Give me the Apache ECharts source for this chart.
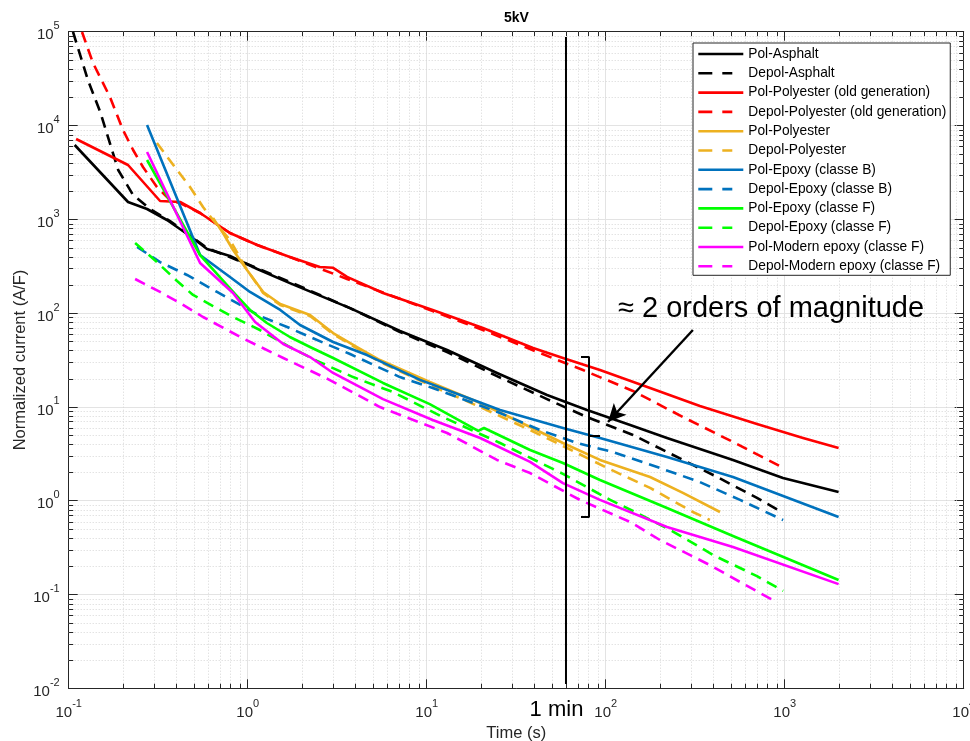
<!DOCTYPE html>
<html>
<head>
<meta charset="utf-8">
<script src="https://cdn.jsdelivr.net/npm/echarts@6/dist/echarts.min.js"></script>
<style>
html, body { margin: 0; padding: 0; background: #ffffff; }
#chart { width: 970px; height: 741px; }
</style>
</head>
<body>
<div id="chart"></div>
<script>
// Polarization / depolarization currents at 5 kV, normalized by capacitance.
// Each measurement: time (s) and normalized current (A/F).
const polAsphaltT = [0.108, 0.2145, 0.274, 0.354, 0.476, 0.593, 0.796, 1.13, 1.72, 3.73, 7.09, 13.0, 24.7, 47.0, 78.6, 137, 220, 514, 978, 2000];
const polAsphaltI = [6194, 1529, 1288, 983, 664, 482, 406, 295, 209, 113, 64.5, 40.4, 23.0, 13.4, 9.27, 6.41, 4.66, 2.72, 1.75, 1.24];

const depolAsphaltT = [0.1057, 0.128, 0.150, 0.189, 0.229, 0.285, 0.368, 0.593, 1.13, 1.72, 3.73, 7.09, 13.0, 24.7, 47.0, 78.6, 142, 238, 419, 700, 980];
const depolAsphaltI = [99300, 30560, 13930, 3355, 1816, 1288, 959, 494, 302, 215, 113, 62.9, 38.5, 21.3, 12.1, 7.8, 5.02, 3.07, 1.79, 1.07, 0.74];

const polOldPolyT = [0.110, 0.2145, 0.324, 0.419, 0.542, 0.796, 1.13, 1.72, 2.53, 3.00, 3.59, 5.70, 10.8, 20.6, 39.3, 57.7, 92.9, 177, 336, 700, 1266, 2000];
const polOldPolyI = [7178, 3792, 1567, 1529, 1167, 714, 532, 396, 310, 304, 243, 164, 108, 69.4, 42.5, 33.2, 24.7, 15.9, 10.2, 6.57, 4.66, 3.65];

const depolOldPolyT = [0.1187, 0.1367, 0.170, 0.201, 0.229, 0.260, 0.311, 0.368, 0.430, 0.542, 0.796, 1.13, 1.72, 3.59, 10.8, 20.6, 43.0, 74.7, 142, 270, 514, 941];
const depolOldPolyI = [99300, 46380, 20130, 8954, 5481, 3610, 2210, 1606, 1456, 1167, 714, 532, 396, 231, 105, 66, 37.5, 24.7, 14.8, 7.8, 4.23, 2.34];

const polPolyT = [0.640, 0.728, 0.828, 0.991, 1.22, 1.52, 2.23, 3.00, 4.08, 5.48, 10.4, 19.9, 37.8, 57.7, 92.9, 177, 270, 435];
const polPolyI = [1033, 714, 471, 288, 168, 125, 95.4, 61.3, 43.5, 31.6, 18.4, 11.0, 6.1, 4.12, 2.72, 1.79, 1.21, 0.758];

const depolPolyT = [0.311, 0.403, 0.476, 0.563, 0.640, 0.796, 0.991, 1.22, 1.52, 2.23, 3.00, 5.48, 10.4, 19.9, 37.8, 59.2, 102, 177, 307, 382];
const depolPolyI = [6509, 3355, 2210, 1352, 983, 602, 288, 164, 122, 93.1, 59.9, 30.1, 17.1, 9.97, 5.67, 3.74, 2.23, 1.37, 0.758, 0.622];

const polEpoxyBT = [0.274, 0.542, 0.796, 1.03, 1.52, 1.96, 3.00, 4.64, 9.18, 25.7, 57.7, 92.9, 220, 514, 2000];
const polEpoxyBI = [10120, 416, 243, 168, 108, 74.7, 49.2, 35.7, 19.4, 9.27, 5.96, 4.66, 2.92, 1.79, 0.67];

const depolEpoxyBT = [0.241, 0.324, 0.458, 0.674, 1.17, 1.66, 2.23, 3.73, 7.09, 10.8, 25.7, 43.0, 69.1, 110, 201, 336, 563, 980];
const depolEpoxyBI = [507, 350, 255, 168, 93.1, 71.1, 55.6, 36.6, 20.8, 15.9, 8.61, 5.67, 4.12, 3.30, 2.23, 1.58, 1.02, 0.622];

const polEpoxyFT = [0.274, 0.542, 0.849, 1.03, 1.28, 1.72, 2.23, 3.00, 5.70, 10.4, 19.4, 20.9, 37.8, 57.7, 92.9, 220, 514, 2000];
const polEpoxyFI = [4287, 416, 160, 108, 78.4, 55.6, 43.5, 33.2, 18.0, 10.7, 5.54, 5.96, 3.47, 2.52, 1.66, 0.836, 0.42, 0.143];

const depolEpoxyFT = [0.235, 0.311, 0.403, 0.495, 0.640, 0.828, 1.17, 1.72, 2.44, 3.88, 6.48, 12.3, 25.7, 57.7, 106, 142, 235, 408, 700, 980];
const depolEpoxyFI = [559, 350, 220, 156, 119, 90.9, 66, 43.5, 30.9, 20.8, 14.4, 7.8, 4.12, 1.93, 1.02, 0.777, 0.475, 0.257, 0.157, 0.109];

const polModernT = [0.274, 0.542, 0.828, 1.10, 1.58, 2.23, 3.00, 5.70, 10.8, 19.9, 37.8, 57.7, 92.9, 220, 514, 2000];
const polModernI = [5218, 342, 164, 80.4, 46.8, 34.0, 23.0, 12.1, 7.25, 4.66, 2.59, 1.54, 1.02, 0.524, 0.321, 0.129];

const depolModernT = [0.235, 0.324, 0.419, 0.563, 0.930, 1.58, 2.81, 5.48, 13.0, 24.7, 37.8, 71.8, 137, 201, 382, 563, 860];
const depolModernI = [231, 168, 128, 90.9, 54.3, 33.2, 19.8, 9.97, 5.27, 2.72, 1.97, 1.02, 0.593, 0.381, 0.206, 0.136, 0.087];

const seriesNames = [
  'Pol-Asphalt', 'Depol-Asphalt',
  'Pol-Polyester (old generation)', 'Depol-Polyester (old generation)',
  'Pol-Polyester', 'Depol-Polyester',
  'Pol-Epoxy (classe B)', 'Depol-Epoxy (classe B)',
  'Pol-Epoxy (classe F)', 'Depol-Epoxy (classe F)',
  'Pol-Modern epoxy (classe F)', 'Depol-Modern epoxy (classe F)'
];
const seriesTimes = [polAsphaltT, depolAsphaltT, polOldPolyT, depolOldPolyT, polPolyT, depolPolyT,
  polEpoxyBT, depolEpoxyBT, polEpoxyFT, depolEpoxyFT, polModernT, depolModernT];
const seriesCurrents = [polAsphaltI, depolAsphaltI, polOldPolyI, depolOldPolyI, polPolyI, depolPolyI,
  polEpoxyBI, depolEpoxyBI, polEpoxyFI, depolEpoxyFI, polModernI, depolModernI];
const seriesColors = ['#000000', '#000000', '#ff0000', '#ff0000', '#edb120', '#edb120',
  '#0072bd', '#0072bd', '#00ff00', '#00ff00', '#ff00ff', '#ff00ff'];

// Axis ranges (decades) and tick label exponents
const xRange = [0.1, 10000];
const yRange = [0.01, 100000];
const xTickExponents = [-1, 0, 1, 2, 3, 4];
const yTickExponents = [-2, -1, 0, 1, 2, 3, 4, 5];

// Annotations: 1-minute marker and the spread bracket at that time
const oneMinute = 60;
const oneMinuteSpan = [0.0111, 88000];
const bracketT = [72.8, 80.7, 80.7, 72.8];
const bracketI = [34, 34, 0.67, 0.67];
const bracketTickT = [80.7, 92.9];
const bracketTickI = [4.9, 4.9];
const arrowFrom = [307, 66];
const arrowTo = [103, 6.9];

const FONT = '"Liberation Sans", Arial, Helvetica, sans-serif';
const AX = '#262626';
const DASH = [11, 7];
const LEGEND_DASH = [14, 10, 10, 20];

// Minor grid positions 2..9 within each decade
function minorValues(lo, hi) {
  const out = [];
  for (let e = lo; e < hi; e++) {
    for (let m = 2; m <= 9; m++) out.push(+(m * Math.pow(10, e)).toPrecision(3));
  }
  return out;
}
const xMinor = minorValues(-1, 4);
const yMinor = minorValues(-2, 5);

function tickLabel(v, exps) {
  const e = Math.round(Math.log10(v));
  if (exps.indexOf(e) < 0) return '';
  return '{b|10}{e|' + e + '}';
}
const labelRich = {
  b: { fontFamily: FONT, fontSize: 15, color: AX, lineHeight: 22, verticalAlign: 'bottom' },
  e: { fontFamily: FONT, fontSize: 11, color: AX, lineHeight: 11, verticalAlign: 'top' }
};

const logAxisBase = {
  type: 'log',
  logBase: 10,
  axisLine: { show: true, onZero: false, lineStyle: { color: AX, width: 1 } },
  axisTick: { show: true, inside: true, length: 9, lineStyle: { color: AX, width: 1 } },
  minorTick: { show: false },
  splitLine: { show: false },
  axisLabel: { show: false }
};

const xAxes = [
  Object.assign({}, logAxisBase, {
    min: xRange[0], max: xRange[1], position: 'bottom',
    name: 'Time (s)', nameLocation: 'middle', nameGap: 34,
    nameTextStyle: { fontFamily: FONT, fontSize: 16.5, color: AX },
    splitLine: { show: true, lineStyle: { color: '#e3e3e3', width: 1 } },
    axisLabel: { show: true, margin: 10, formatter: v => tickLabel(v, xTickExponents), rich: labelRich }
  }),
  Object.assign({}, logAxisBase, { min: xRange[0], max: xRange[1], position: 'top' })
];
const yAxes = [
  Object.assign({}, logAxisBase, {
    min: yRange[0], max: yRange[1], position: 'left',
    name: 'Normalized current (A/F)', nameLocation: 'middle', nameGap: 40, nameMoveOverlap: false,
    nameTextStyle: { fontFamily: FONT, fontSize: 16.5, color: AX },
    splitLine: { show: true, lineStyle: { color: '#e3e3e3', width: 1 } },
    axisLabel: { show: true, margin: 9, formatter: v => tickLabel(v, yTickExponents), rich: labelRich }
  }),
  Object.assign({}, logAxisBase, { min: yRange[0], max: yRange[1], position: 'right' })
];

// Dotted minor grid lines with short inward ticks on both opposite sides
function minorRenderer(vertical) {
  return function (params, api) {
    const cs = params.coordSys;
    const p = api.coord([api.value(0), api.value(1)]);
    const grid = { stroke: '#d6d6d6', lineWidth: 1, lineDash: [1, 2] };
    const tick = { stroke: AX, lineWidth: 1 };
    const L = 4.5;
    if (vertical) {
      const x = Math.round(p[0]) + 0.5;
      const y0 = cs.y, y1 = cs.y + cs.height;
      return { type: 'group', children: [
        { type: 'line', shape: { x1: x, y1: y0, x2: x, y2: y1 }, style: grid },
        { type: 'line', shape: { x1: x, y1: y1, x2: x, y2: y1 - L }, style: tick },
        { type: 'line', shape: { x1: x, y1: y0, x2: x, y2: y0 + L }, style: tick }
      ] };
    }
    const y = Math.round(p[1]) + 0.5;
    const x0 = cs.x, x1 = cs.x + cs.width;
    return { type: 'group', children: [
      { type: 'line', shape: { x1: x0, y1: y, x2: x1, y2: y }, style: grid },
      { type: 'line', shape: { x1: x0, y1: y, x2: x0 + L, y2: y }, style: tick },
      { type: 'line', shape: { x1: x1, y1: y, x2: x1 - L, y2: y }, style: tick }
    ] };
  };
}

const series = [
  {
    type: 'custom', name: 'minorX', silent: true, z: 1,
    renderItem: minorRenderer(true),
    encode: { x: 0, y: 1 },
    data: xMinor.map(v => [v, 1])
  },
  {
    type: 'custom', name: 'minorY', silent: true, z: 1,
    renderItem: minorRenderer(false),
    encode: { x: 0, y: 1 },
    data: yMinor.map(v => [1, v])
  }
];

seriesNames.forEach((name, k) => {
  const t = seriesTimes[k], c = seriesCurrents[k];
  series.push({
    type: 'line', name: name, z: 3,
    data: t.map((x, i) => [x, c[i]]),
    symbol: 'none', showSymbol: false, silent: true,
    clip: true,
    lineStyle: { color: seriesColors[k], width: 2.6, type: k % 2 === 1 ? DASH : 'solid', join: 'round' },
    itemStyle: { color: seriesColors[k] },
    emphasis: { disabled: true }
  });
});

// 1-minute vertical marker
series.push({
  type: 'line', name: 'oneMinute', z: 4, silent: true, symbol: 'none',
  data: oneMinuteSpan.map(v => [oneMinute, v]),
  lineStyle: { color: '#000', width: 2 },
  emphasis: { disabled: true }
});
// bracket spanning the currents at 1 min, with the arrow pointing to it
series.push({
  type: 'line', name: 'bracket', z: 4, silent: true, symbol: 'none',
  data: bracketT.map((x, i) => [x, bracketI[i]]),
  lineStyle: { color: '#000', width: 2 },
  emphasis: { disabled: true },
  markLine: {
    silent: true, animation: false,
    symbol: ['none', 'arrow'], symbolSize: [13, 18],
    lineStyle: { color: '#000', width: 2.4, type: 'solid' },
    label: { show: false },
    data: [[{ coord: arrowFrom }, { coord: arrowTo }]]
  }
});
series.push({
  type: 'line', name: 'bracketTick', z: 4, silent: true, symbol: 'none',
  data: bracketTickT.map((x, i) => [x, bracketTickI[i]]),
  lineStyle: { color: '#000', width: 2 },
  emphasis: { disabled: true }
});

const legendItems = seriesNames.map((name, k) =>
  k % 2 === 1 ? { name: name, lineStyle: { type: LEGEND_DASH } } : { name: name }
);

const chart = echarts.init(document.getElementById('chart'), null, { renderer: 'canvas' });
chart.setOption({
  animation: false,
  backgroundColor: '#ffffff',
  textStyle: { fontFamily: FONT },
  grid: { left: 68.7, right: 6.3, top: 31.7, bottom: 52.7, containLabel: false, outerBoundsMode: 'none' },
  xAxis: xAxes,
  yAxis: yAxes,
  legend: {
    data: legendItems,
    orient: 'vertical',
    left: 693, top: 43,
    itemWidth: 45, itemHeight: 14, itemGap: 5.3,
    padding: [4, 4, 2, 4],
    backgroundColor: '#ffffff',
    borderColor: AX, borderWidth: 1, borderRadius: 0,
    selectedMode: false,
    itemStyle: { opacity: 0 },
    lineStyle: { width: 2.6 },
    textStyle: { fontFamily: FONT, fontSize: 13.75, color: '#000' }
  },
  graphic: [
    { type: 'text', z: 10, silent: true,
      style: { x: 516.5, y: 18, text: '5kV', font: 'bold 14px ' + FONT, fill: '#000', textAlign: 'center', textVerticalAlign: 'middle' } },
    { type: 'text', z: 10, silent: true,
      style: { x: 618, y: 309, text: '\u2248 2 orders of magnitude', font: '29px ' + FONT, fill: '#000', textAlign: 'left', textVerticalAlign: 'middle' } },
    { type: 'text', z: 10, silent: true,
      style: { x: 556.5, y: 710, text: '1 min', font: '22px ' + FONT, fill: '#000', textAlign: 'center', textVerticalAlign: 'middle' } }
  ],
  series: series
});
</script>
</body>
</html>
